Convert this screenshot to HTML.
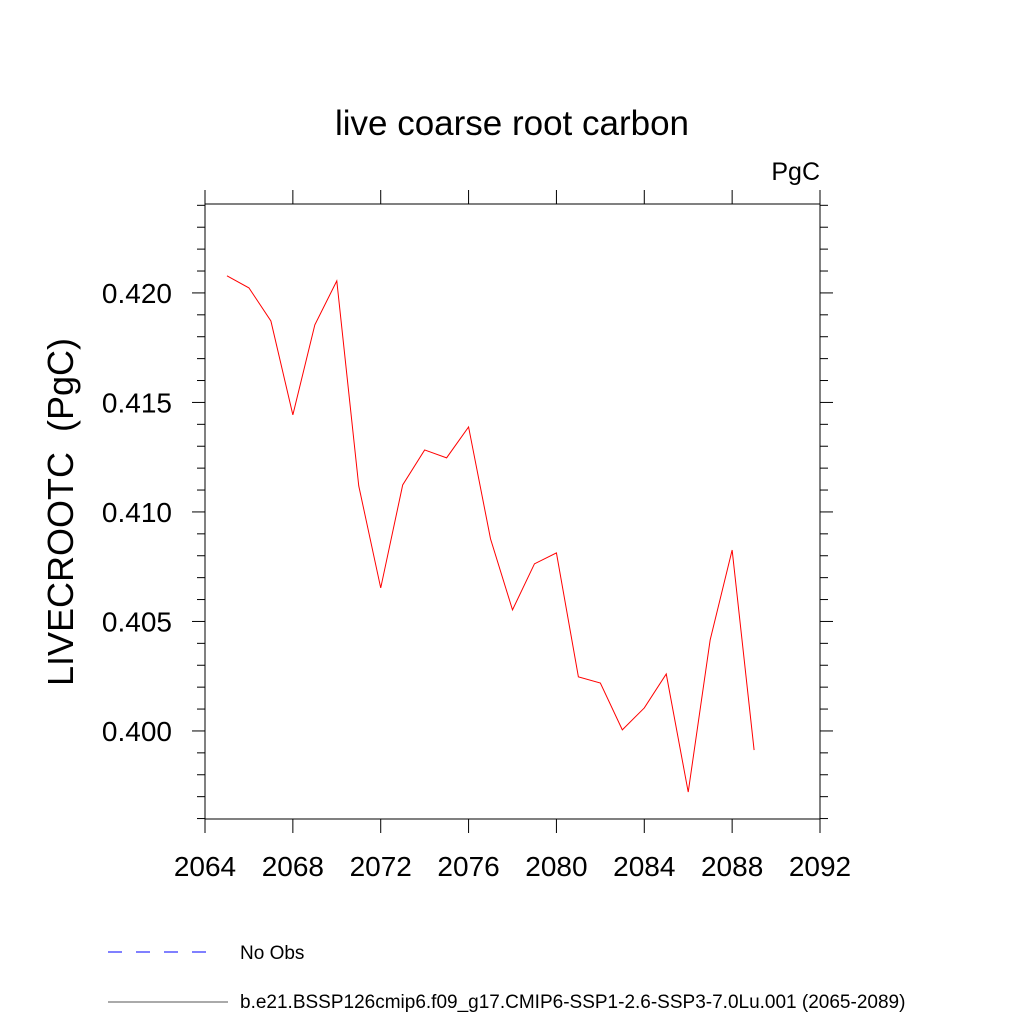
<!DOCTYPE html>
<html><head><meta charset="utf-8"><style>
html,body{margin:0;padding:0;background:#fff;}
svg{display:block;font-family:"Liberation Sans",sans-serif;}
</style></head><body>
<svg id="chart" width="1024" height="1024" viewBox="0 0 1024 1024">
<text x="512" y="135" font-size="35" text-anchor="middle">live coarse root carbon</text>
<text x="820" y="180" font-size="25" text-anchor="end">PgC</text>
<text transform="translate(73,512) rotate(-90)" font-size="36" text-anchor="middle">LIVECROOTC&#160; (PgC)</text>
<g id="axes"></g>
<rect x="205" y="204" width="615" height="615" fill="none" stroke="#000" stroke-width="1"/>
<g id="series"></g>
<line x1="108" y1="952" x2="218" y2="952" stroke="#0000ff" stroke-width="1" stroke-dasharray="14,14"/>
<text x="240" y="959" font-size="19">No Obs</text>
<line x1="108" y1="1002" x2="228" y2="1002" stroke="#555" stroke-width="1"/>
<text x="240" y="1008" font-size="19">b.e21.BSSP126cmip6.f09_g17.CMIP6-SSP1-2.6-SSP3-7.0Lu.001 (2065-2089)</text>
</svg>
<script>
const years=[2065,2066,2067,2068,2069,2070,2071,2072,2073,2074,2075,2076,2077,2078,2079,2080,2081,2082,2083,2084,2085,2086,2087,2088,2089];
const values=[0.42078,0.42023,0.41872,0.41443,0.41854,0.42055,0.41119,0.40653,0.41123,0.41283,0.41247,0.41388,0.40877,0.40553,0.40763,0.40813,0.40247,0.40219,0.40005,0.40105,0.40260,0.39721,0.40416,0.40826,0.39913];
const xTicks=[2064,2068,2072,2076,2080,2084,2088,2092];
const yTicks=[0.400,0.405,0.410,0.415,0.420];
const xMin=2064,xMax=2092,yMin=0.39598,yMax=0.42406;
const L=205,R=820,T=204,B=819;
const sx=v=>L+(v-xMin)/(xMax-xMin)*(R-L);
const sy=v=>B-(v-yMin)/(yMax-yMin)*(B-T);
const NS="http://www.w3.org/2000/svg";
const ax=document.getElementById('axes');
function ln(x1,y1,x2,y2,name){const l=document.createElementNS(NS,'line');
l.setAttribute('x1',x1);l.setAttribute('y1',y1);l.setAttribute('x2',x2);l.setAttribute('y2',y2);
l.setAttribute('stroke','#000');l.setAttribute('stroke-width','1');


ax.appendChild(l);}
function tx(x,y,s,anchor,name){const t=document.createElementNS(NS,'text');
t.setAttribute('x',x);t.setAttribute('y',y);t.setAttribute('font-size','28');t.setAttribute('text-anchor',anchor);t.textContent=s;


ax.appendChild(t);}
xTicks.forEach(v=>{const x=sx(v);ln(x,B,x,B+14,'x-tick');ln(x,T,x,T-14,'x-tick-top');});
xTicks.forEach(v=>tx(sx(v),876,String(v),'middle','x-tick-label'));
for(let i=0;i<=28;i++){const v=0.396+i*0.001;if(v>yMax)break;const y=sy(v);const maj=(Math.round(v*1000)%5===0);const len=maj?13:8;
ln(L,y,L-len,y,'y-tick');ln(R,y,R+len,y,'y-tick-right');}
yTicks.forEach(v=>tx(172,sy(v)+10,v.toFixed(3),'end','y-tick-label'));
const p=document.createElementNS(NS,'polyline');
p.setAttribute('points',years.map((y,i)=>sx(y)+','+sy(values[i])).join(' '));
p.setAttribute('fill','none');p.setAttribute('stroke','#ff0000');p.setAttribute('stroke-width','1');


document.getElementById('series').appendChild(p);
</script>
</body></html>
